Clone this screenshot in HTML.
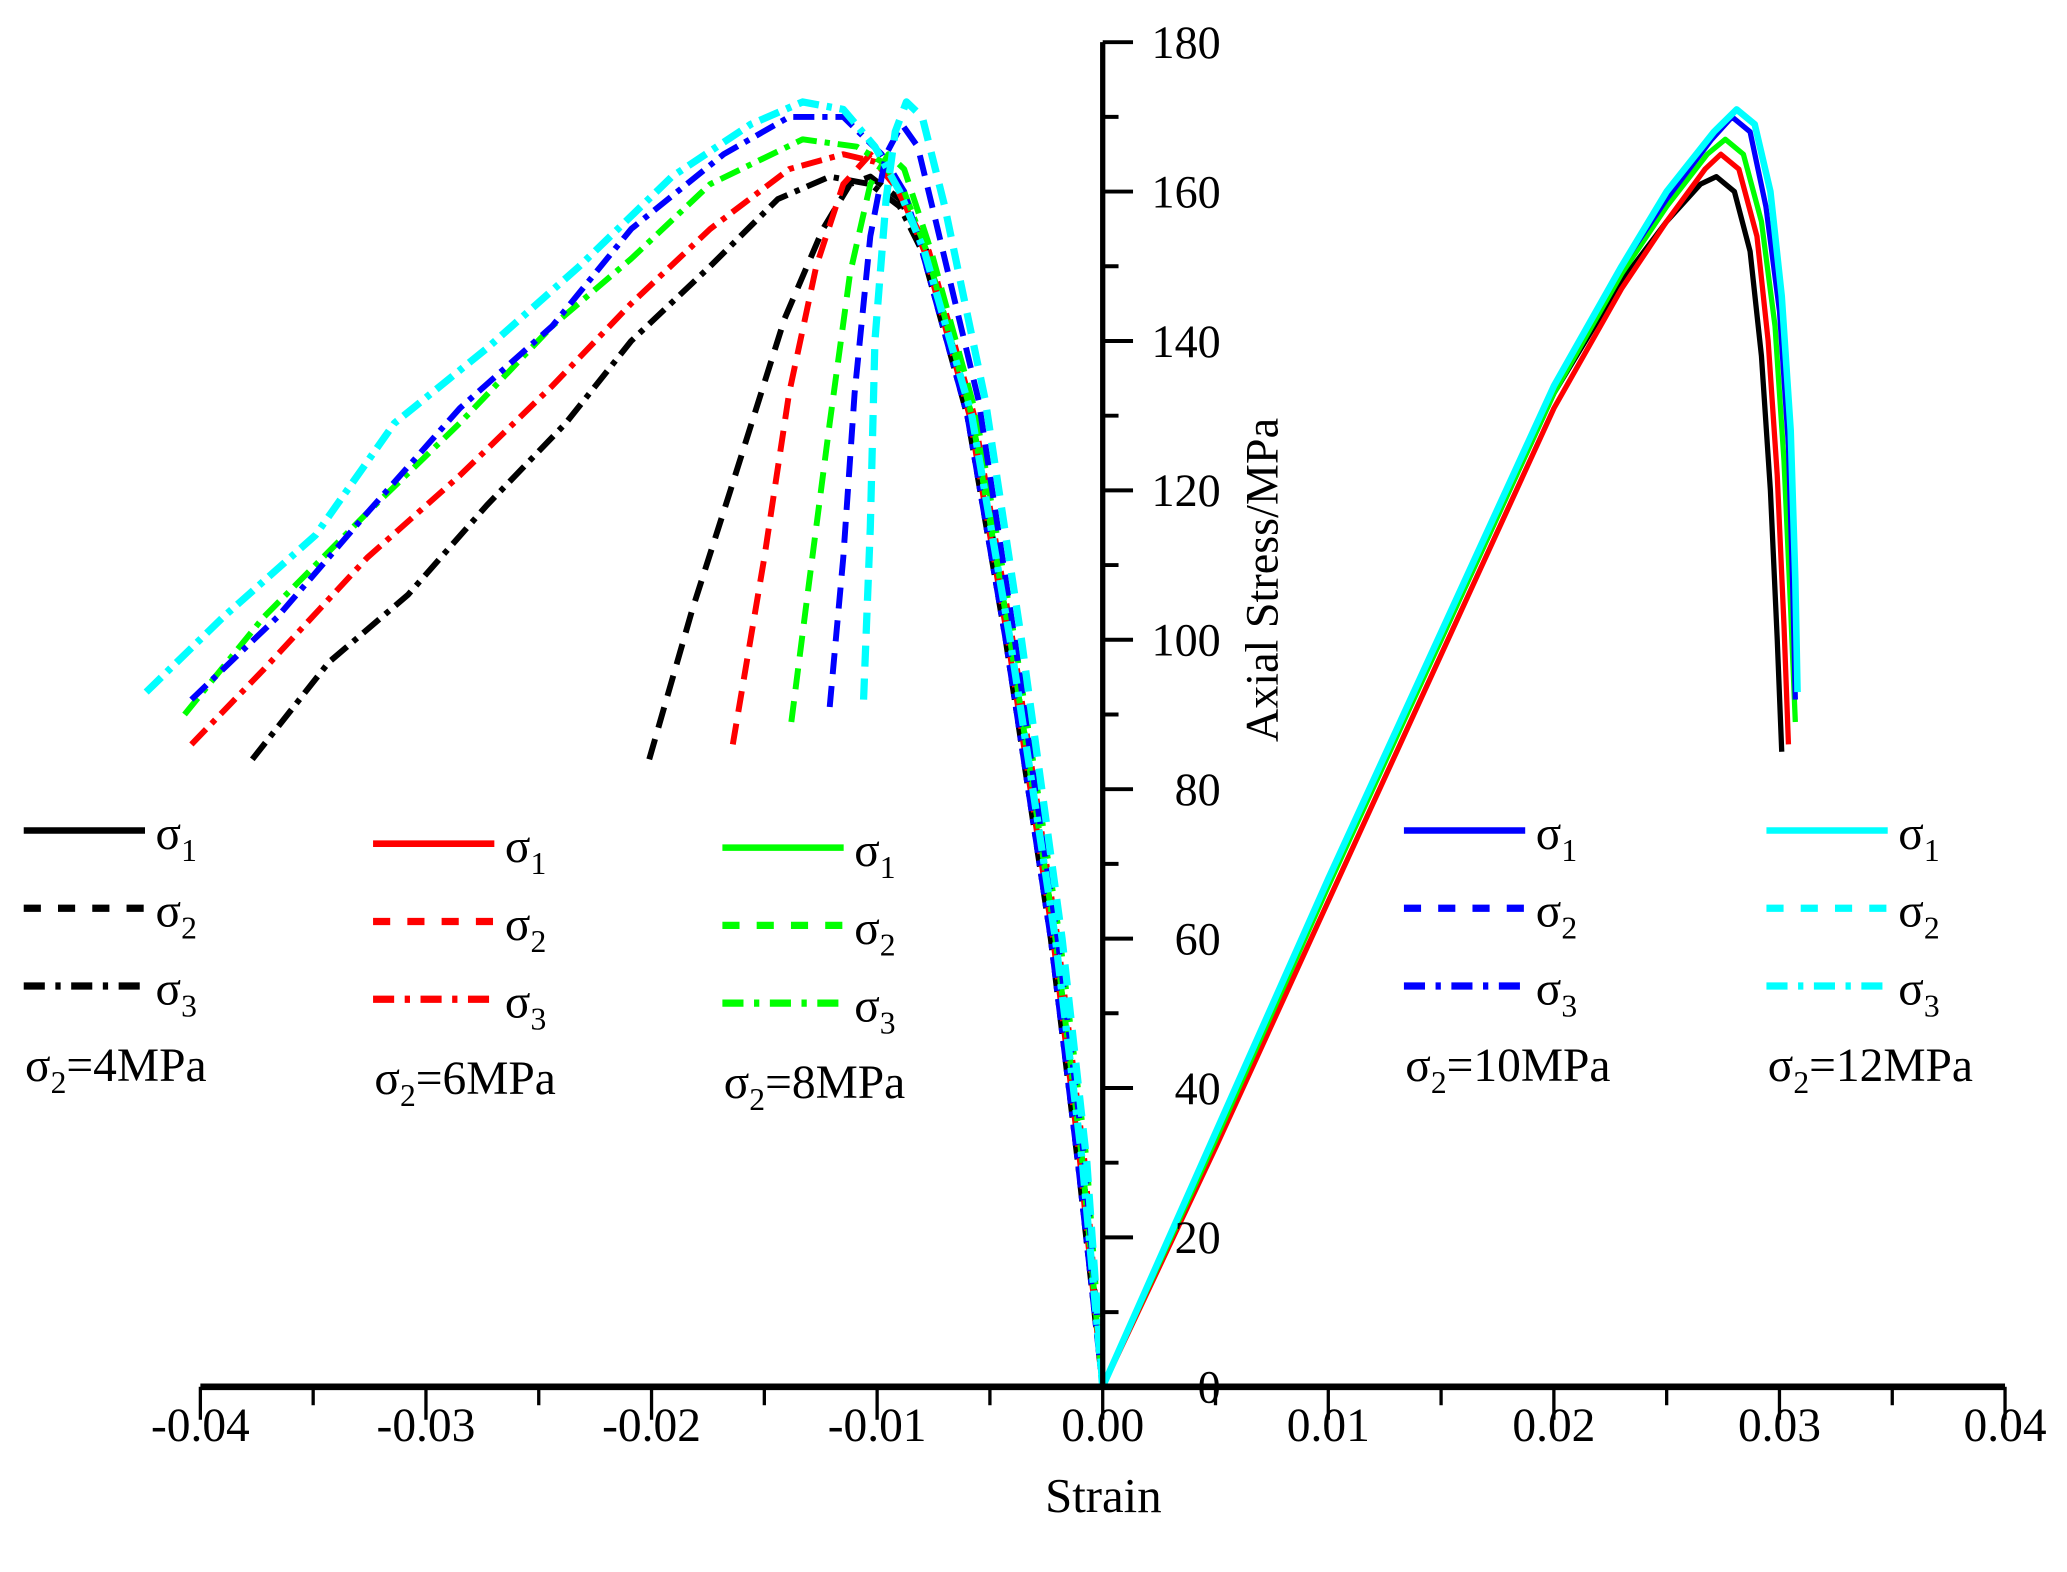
<!DOCTYPE html>
<html><head><meta charset="utf-8"><style>
html,body{margin:0;padding:0;background:#fff;}
svg{display:block;font-family:"Liberation Serif",serif;}
</style></head><body>
<svg id="chart" width="2067" height="1572" viewBox="0 0 1568 1192.5" preserveAspectRatio="none" xmlns="http://www.w3.org/2000/svg">
<g id="plot"></g>
<g id="axes"></g>
<g id="legend"></g>
</svg>
<script>
// ---- data (strain, MPa) ----
const groupNames = ["4MPa","6MPa","8MPa","10MPa","12MPa"];
const groupColors = ["#000000","#ff0000","#00ff00","#0000ff","#00ffff"];
const xTicks = [-0.04,-0.03,-0.02,-0.01,0.00,0.01,0.02,0.03,0.04];
const xTickLabels = ["-0.04","-0.03","-0.02","-0.01","0.00","0.01","0.02","0.03","0.04"];
const yTicks = [0,20,40,60,80,100,120,140,160,180];

const g4s1X=[0,0.005,0.01,0.015,0.02,0.023,0.025,0.0265,0.0272,0.0280,0.0287,0.0292,0.0296,0.0299,0.0301];
const g4s1Y=[0,34,68,100,133,148,156,161,162,160,152,138,120,100,85];
const g4s2X=[-0.0201,-0.0182,-0.0165,-0.0141,-0.0124,-0.0112,-0.0103,-0.0090,-0.0078,-0.0058,-0.0041,-0.0031,-0.0021,-0.0009,0];
const g4s2Y=[84,104,120,143,155,161,162,159,152,130,100,80,60,30,0];
const g4s3X=[-0.0377,-0.0343,-0.0308,-0.0273,-0.0238,-0.0209,-0.0174,-0.0144,-0.0121,-0.0103,-0.0090,-0.0080,-0.0060,-0.0043,-0.0033,-0.0023,-0.0011,0];
const g4s3Y=[84,97,106,118,129,140,150,159,162,161,158,152,130,100,80,60,30,0];

const g6s1X=[0,0.005,0.01,0.015,0.02,0.023,0.025,0.0267,0.0274,0.0282,0.0290,0.0295,0.0299,0.0302,0.0304];
const g6s1Y=[0,32,65,98,131,147,156,163,165,163,154,140,122,102,86];
const g6s2X=[-0.0164,-0.0150,-0.0139,-0.0127,-0.0115,-0.0103,-0.0094,-0.0077,-0.0057,-0.0040,-0.0030,-0.0020,-0.0008,0];
const g6s2Y=[86,111,133,150,161,165,162,152,130,100,80,60,30,0];
const g6s3X=[-0.0404,-0.0372,-0.0326,-0.0285,-0.0244,-0.0209,-0.0174,-0.0139,-0.0115,-0.0101,-0.0090,-0.0079,-0.0059,-0.0042,-0.0032,-0.0022,-0.0010,0];
const g6s3Y=[86,96,111,122,134,145,155,163,165,164,160,152,130,100,80,60,30,0];

const g8s1X=[0,0.005,0.01,0.015,0.02,0.023,0.025,0.0268,0.0276,0.0284,0.0292,0.0298,0.0302,0.0305,0.0307];
const g8s1Y=[0,33,67,100,133,149,158,165,167,165,156,142,124,104,89];
const g8s2X=[-0.0138,-0.0130,-0.0121,-0.0112,-0.0103,-0.0095,-0.0088,-0.0076,-0.0056,-0.0039,-0.0029,-0.0019,-0.0007,0];
const g8s2Y=[89,108,129,149,161,165,163,152,130,100,80,60,30,0];
const g8s3X=[-0.0407,-0.0372,-0.0326,-0.0285,-0.0244,-0.0209,-0.0174,-0.0133,-0.0109,-0.0098,-0.0088,-0.0078,-0.0058,-0.0041,-0.0031,-0.0021,-0.0009,0];
const g8s3Y=[90,103,117,129,142,151,161,167,166,164,160,152,130,100,80,60,30,0];

const g10s1X=[0,0.005,0.01,0.015,0.02,0.023,0.025,0.0270,0.0279,0.0287,0.0294,0.0300,0.0304,0.0306,0.0307];
const g10s1Y=[0,34,68,101,134,150,159,167,170,168,158,144,126,106,92];
const g10s2X=[-0.0121,-0.0115,-0.0110,-0.0103,-0.0096,-0.0089,-0.0082,-0.0074,-0.0055,-0.0039,-0.0030,-0.0020,-0.0008,0];
const g10s2Y=[91,111,133,154,165,169,166,156,132,100,80,60,30,0];
const g10s3X=[-0.0404,-0.0366,-0.0326,-0.0285,-0.0244,-0.0209,-0.0168,-0.0139,-0.0115,-0.0098,-0.0088,-0.0080,-0.0060,-0.0043,-0.0033,-0.0023,-0.0011,0];
const g10s3Y=[92,103,117,131,142,155,165,170,170,165,160,152,130,100,80,60,30,0];

const g12s1X=[0,0.005,0.01,0.015,0.02,0.023,0.025,0.0271,0.0281,0.0289,0.0296,0.0301,0.0305,0.0307,0.0308];
const g12s1Y=[0,34,68,101,134,150,160,168,171,169,160,146,128,108,93];
const g12s2X=[-0.0106,-0.0103,-0.0101,-0.0096,-0.0092,-0.0087,-0.0080,-0.0070,-0.0052,-0.0036,-0.0027,-0.0018,-0.0007,0];
const g12s2Y=[92,115,140,159,168,172,170,158,132,100,80,60,30,0];
const g12s3X=[-0.0424,-0.0390,-0.0349,-0.0314,-0.0273,-0.0232,-0.0191,-0.0156,-0.0133,-0.0115,-0.0101,-0.0090,-0.0079,-0.0058,-0.0041,-0.0031,-0.0021,-0.0009,0];
const g12s3Y=[93,103,114,129,139,150,162,169,172,171,166,160,152,130,100,80,60,30,0];

const NS="http://www.w3.org/2000/svg";
const X0=152, X1=1521, Y0=1052, Y1=32;
function sx(v){return X0+(v+0.04)/0.08*(X1-X0);}
function sy(v){return Y0-(v/180)*(Y0-Y1);}
function mk(tag,attrs,parent){const e=document.createElementNS(NS,tag);for(const k in attrs)e.setAttribute(k,attrs[k]);parent.appendChild(e);return e;}

const plot=document.getElementById('plot');
const groups=[
 [g4s1X,g4s1Y,g4s2X,g4s2Y,g4s3X,g4s3Y],
 [g6s1X,g6s1Y,g6s2X,g6s2Y,g6s3X,g6s3Y],
 [g8s1X,g8s1Y,g8s2X,g8s2Y,g8s3X,g8s3Y],
 [g10s1X,g10s1Y,g10s2X,g10s2Y,g10s3X,g10s3Y],
 [g12s1X,g12s1Y,g12s2X,g12s2Y,g12s3X,g12s3Y]
];
const dashes=["none","16 9","16 6 4 6"];
groups.forEach((g,gi)=>{
  const w = gi===4?5.5:4.5;
  for(let s=0;s<3;s++){
    const xs=g[s*2], ys=g[s*2+1];
    const d=xs.map((v,i)=>(i?'L':'M')+sx(v).toFixed(1)+','+sy(ys[i]).toFixed(1)).join(' ');
    const p=mk('path',{d:d,fill:'none',stroke:groupColors[gi],'stroke-width':s===0?w-0.5:w,'stroke-dasharray':dashes[s],'stroke-linejoin':'round'},plot);
    
    
  }
});

// axes
const ax=document.getElementById('axes');
const yAxisX=sx(0);
let e;
e=mk('line',{x1:X0,y1:Y0,x2:X1,y2:Y0,stroke:'#000','stroke-width':5},ax);


e=mk('line',{x1:yAxisX,y1:Y1,x2:yAxisX,y2:Y0,stroke:'#000','stroke-width':4},ax);


xTicks.forEach((t,i)=>{
  const x=sx(t);
  e=mk('line',{x1:x,y1:Y0,x2:x,y2:Y0+25,stroke:'#000','stroke-width':2.5},ax);
  
  
  if(i<xTicks.length-1){
    const xm=sx(t+0.005);
    e=mk('line',{x1:xm,y1:Y0,x2:xm,y2:Y0+14,stroke:'#000','stroke-width':2.5},ax);
    
    
  }
  const tx=mk('text',{x:x,y:1093,'font-size':36,'text-anchor':'middle',fill:'#000'},ax);
  tx.textContent=xTickLabels[i];
  
  
});
yTicks.forEach((t,i)=>{
  const y=sy(t);
  e=mk('line',{x1:yAxisX,y1:y,x2:yAxisX+23,y2:y,stroke:'#000','stroke-width':3},ax);
  
  
  if(i<yTicks.length-1){
    const ym=sy(t+10);
    e=mk('line',{x1:yAxisX,y1:ym,x2:yAxisX+12,y2:ym,stroke:'#000','stroke-width':3},ax);
    
    
  }
  const tx=mk('text',{x:926,y:y+12,'font-size':35,'text-anchor':'end',fill:'#000'},ax);
  tx.textContent=String(t);
  
  
});
e=mk('text',{x:837,y:1147,'font-size':37,'text-anchor':'middle',fill:'#000'},ax);
e.textContent='Strain';


e=mk('text',{x:0,y:0,'font-size':35,'text-anchor':'middle',fill:'#000',transform:'translate(969,440) rotate(-90)'},ax);
e.textContent='Axial Stress/MPa';



// legend
const lg=document.getElementById('legend');
const legendCols=[
 {x:18,y:630},{x:283,y:640},{x:548,y:643},{x:1065,y:630},{x:1340,y:630}
];
const labelNums=["4","6","8","10","12"];
legendCols.forEach((c,gi)=>{
  for(let s=0;s<3;s++){
    const y=c.y+s*59;
    e=mk('line',{x1:c.x,y1:y,x2:c.x+92,y2:y,stroke:groupColors[gi],'stroke-width':s===0?5:5.5,'stroke-dasharray':s===0?'none':(s===1?'13 13':'16 8 4 8')},lg);
    
    
    const t=mk('text',{x:c.x+100,y:y+14,'font-size':36,fill:'#000'},lg);
    t.innerHTML='σ<tspan font-size="24" dy="9">'+(s+1)+'</tspan>';
    
    
  }
  const t=mk('text',{x:c.x+1,y:c.y+190,'font-size':36,fill:'#000'},lg);
  t.innerHTML='σ<tspan font-size="24" dy="9">2</tspan><tspan dy="-9">='+labelNums[gi]+'MPa</tspan>';
  
  
});
</script>
</body></html>
